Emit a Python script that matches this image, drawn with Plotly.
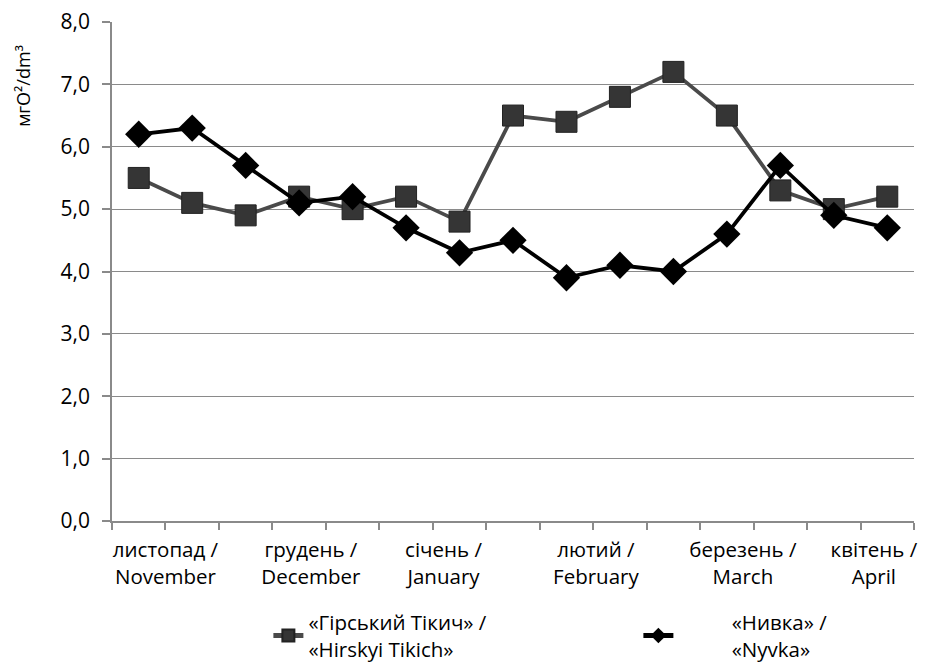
import plotly.graph_objects as go

# Data
x_pos = [0.5, 1.5, 2.5, 3.5, 4.5, 5.5, 6.5, 7.5, 8.5, 9.5, 10.5, 11.5, 12.5, 13.5, 14.5]
hirskyi = [5.5, 5.1, 4.9, 5.2, 5.0, 5.2, 4.8, 6.5, 6.4, 6.8, 7.2, 6.5, 5.3, 5.0, 5.2]
nyvka = [6.2, 6.3, 5.7, 5.1, 5.2, 4.7, 4.3, 4.5, 3.9, 4.1, 4.0, 4.6, 5.7, 4.9, 4.7]
month_pos = [1.0, 3.72, 6.2, 9.05, 11.8, 14.25]
month_labels = ["листопад /<br>November", "грудень /<br>December", "січень /<br>January",
                "лютий /<br>February", "березень /<br>March", "квітень /<br>April"]
y_ticks = [0, 1, 2, 3, 4, 5, 6, 7, 8]
series_names = ["«Гірський Тікич» /<br>«Hirskyi Tikich»",
                "\u00a0" * 10 + "«Нивка» /<br>" + "\u00a0" * 10 + "«Nyvka»"]

FONT = "Open Sans"
GRID = "#8a8a8a"

fig = go.Figure()
fig.add_trace(go.Scatter(
    x=x_pos, y=hirskyi, mode="lines+markers",
    name=series_names[0],
    line=dict(color="#4a4a4a", width=3.8),
    marker=dict(symbol="square", size=21, color="#353535", line=dict(color="#222222", width=1)),
))
fig.add_trace(go.Scatter(
    x=x_pos, y=nyvka, mode="lines+markers",
    name=series_names[1],
    line=dict(color="#000000", width=3.8),
    marker=dict(symbol="diamond", size=21, color="#000000"),
))

fig.update_layout(
    width=934, height=662,
    margin=dict(l=104, r=28, t=14, b=149, autoexpand=False),
    paper_bgcolor="white", plot_bgcolor="white",
    separators=", ",
    font=dict(family=FONT, size=20, color="#000000"),
    showlegend=True,
    legend=dict(orientation="h", x=0.195, xanchor="left", y=-0.163, yanchor="top",
                entrywidth=325, entrywidthmode="pixels",
                font=dict(family=FONT, size=20.5), tracegroupgap=0, itemsizing="constant"),
    xaxis=dict(
        range=[0, 15], showgrid=False, zeroline=False,
        showline=True, linecolor=GRID, linewidth=1.5,
        tickmode="array", tickvals=month_pos, ticktext=month_labels,
        ticks="", tickfont=dict(family=FONT, size=20.5), ticklabelstandoff=10,
        ticklabeloverflow="allow",
        minor=dict(tickmode="linear", tick0=0, dtick=1, ticks="outside", ticklen=7,
                   tickcolor=GRID, tickwidth=1.5, showgrid=False),
    ),
    yaxis=dict(
        range=[0, 8], tickmode="array", tickvals=y_ticks, tickformat=".1f",
        showgrid=True, gridcolor=GRID, gridwidth=1.2, zeroline=False,
        showline=True, linecolor=GRID, linewidth=1.5,
        ticks="outside", ticklen=8, tickcolor=GRID, tickwidth=1.5,
        tickfont=dict(family=FONT, size=21), ticklabelstandoff=8,
        ticklabeloverflow="allow",
    ),
    annotations=[dict(
        text="мгO²/dm³", textangle=-90, xref="paper", yref="paper",
        x=-0.111, y=0.872, xanchor="center", yanchor="middle", showarrow=False,
        font=dict(family=FONT, size=18),
    )],
)

fig.write_html("out.html")
